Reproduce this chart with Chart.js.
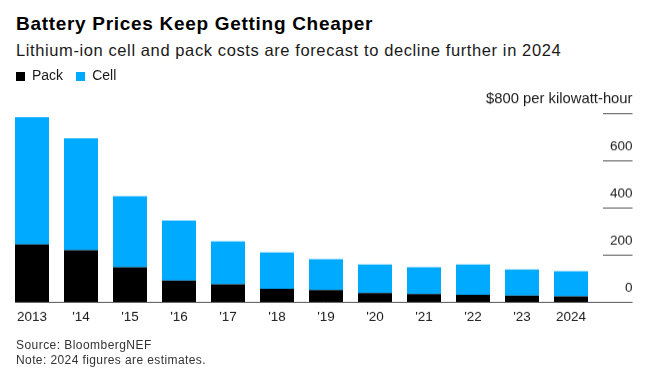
<!DOCTYPE html>
<html>
<head>
<meta charset="utf-8">
<script src="https://cdn.jsdelivr.net/npm/chart.js@4.4.1/dist/chart.umd.min.js"></script>
<style>
  html, body { margin: 0; padding: 0; background: #fff; }
  body { width: 657px; height: 373px; position: relative; overflow: hidden; font-family: "Liberation Sans", Arial, sans-serif; }
  .txt { position: absolute; left: 16px; white-space: nowrap; z-index: 2; }
  #title { top: 14.3px; font-size: 19px; line-height: 19px; font-weight: bold; color: #000; letter-spacing: 0.7px; }
  #subtitle { top: 41.8px; font-size: 16.5px; line-height: 16.5px; color: #1a1a1a; letter-spacing: 0.6px; }
  #legend { top: 68px; font-size: 14px; line-height: 14px; color: #1a1a1a; }
  #legend span.box { display: inline-block; width: 9px; height: 9px; margin-right: 7px; vertical-align: -1px; }
  #legend span.item { margin-right: 13px; }
  #source { top: 338.5px; font-size: 12px; line-height: 12px; color: #333; letter-spacing: 0.45px; }
  #note { top: 353.5px; font-size: 12px; line-height: 12px; color: #333; letter-spacing: 0.4px; }
  /* tick padding on the mirrored y axis adds 45px above and below the plot, so the canvas starts higher */
  #wrap { position: absolute; left: 0; top: 67.3px; width: 657px; height: 279.4px; z-index: 1; }
</style>
</head>
<body>
<div class="txt" id="title">Battery Prices Keep Getting Cheaper</div>
<div class="txt" id="subtitle">Lithium-ion cell and pack costs are forecast to decline further in 2024</div>
<div class="txt" id="legend"></div>
<div id="wrap"><canvas id="chart"></canvas></div>
<div class="txt" id="source">Source: BloombergNEF</div>
<div class="txt" id="note">Note: 2024 figures are estimates.</div>

<script>
// values, $ per kWh
const years = ['2013', "'14", "'15", "'16", "'17", "'18", "'19", "'20", "'21", "'22", "'23", '2024'];
const pack = [244, 220, 148, 92, 76, 57, 51, 38, 34, 31, 28, 25];
const cell = [539, 473, 300, 253, 181, 153, 131, 121, 114, 128, 110, 106];
const yTicks = [0, 200, 400, 600, 800];

const packColor = '#000000';
const cellColor = '#00aaff';

// simple html legend
const legend = document.getElementById('legend');
[['Pack', packColor], ['Cell', cellColor]].forEach(([name, color]) => {
    const item = document.createElement('span');
    item.className = 'item';
    item.innerHTML = '<span class="box" style="background:' + color + '"></span>' + name;
    legend.appendChild(item);
});

// short tick lines on the right + baseline
const rulesPlugin = {
    id: 'rules',
    afterDatasetsDraw(chart) {
        const ctx = chart.ctx;
        const y = chart.scales.y;
        const first = chart.getDatasetMeta(0).data[0];
        ctx.save();
        ctx.strokeStyle = '#555';
        ctx.lineWidth = 1;
        yTicks.forEach(v => {
            const py = Math.round(y.getPixelForValue(v)) + 0.5;
            ctx.beginPath();
            if (v === 0) {
                ctx.moveTo(first.x - first.width / 2, py);
            } else {
                ctx.moveTo(y.right - 29.5, py);
            }
            ctx.lineTo(y.right, py);
            ctx.stroke();
        });
        ctx.restore();
    }
};

const ctx = document.getElementById('chart').getContext('2d');
new Chart(ctx, {
    type: 'bar',
    data: {
        labels: years,
        datasets: [{
            label: 'Pack',
            data: pack,
            backgroundColor: packColor
        }, {
            label: 'Cell',
            data: cell,
            backgroundColor: cellColor
        }]
    },
    options: {
        responsive: true,
        maintainAspectRatio: false,
        animation: false,
        events: [],
        layout: {
            padding: { left: 7.5, right: 24.5, top: 0, bottom: 0 }
        },
        datasets: {
            bar: { categoryPercentage: 1, barPercentage: 34 / 49 }
        },
        plugins: {
            legend: { display: false },
            tooltip: { enabled: false }
        },
        scales: {
            x: {
                stacked: true,
                grid: { display: false, drawTicks: false },
                border: { display: false },
                ticks: {
                    color: '#1a1a1a',
                    font: { family: '"Liberation Sans", Arial, sans-serif', size: 13.5 },
                    padding: 6.5,
                    maxRotation: 0,
                    autoSkip: false
                },
                afterFit(scale) { scale.height = 23.3; }
            },
            y: {
                stacked: true,
                position: 'right',
                min: 0,
                max: 800,
                afterBuildTicks(scale) { scale.ticks = yTicks.map(v => ({ value: v })); },
                grid: { display: false, drawTicks: false },
                border: { display: false },
                ticks: {
                    color: '#1a1a1a',
                    // the unit label on top is set a touch wider, like the original
                    font: c => ({
                        family: '"Liberation Sans", Arial, sans-serif',
                        size: c.tick && c.tick.value === 800 ? 14.8 : 13.5
                    }),
                    mirror: true,
                    crossAlign: 'near',
                    padding: 37,
                    labelOffset: -14,
                    callback: v => v === 800 ? '$800 per kilowatt-hour' : v
                },
                afterFit(scale) { scale.width = 37; }
            }
        }
    },
    plugins: [rulesPlugin]
});
</script>
</body>
</html>
